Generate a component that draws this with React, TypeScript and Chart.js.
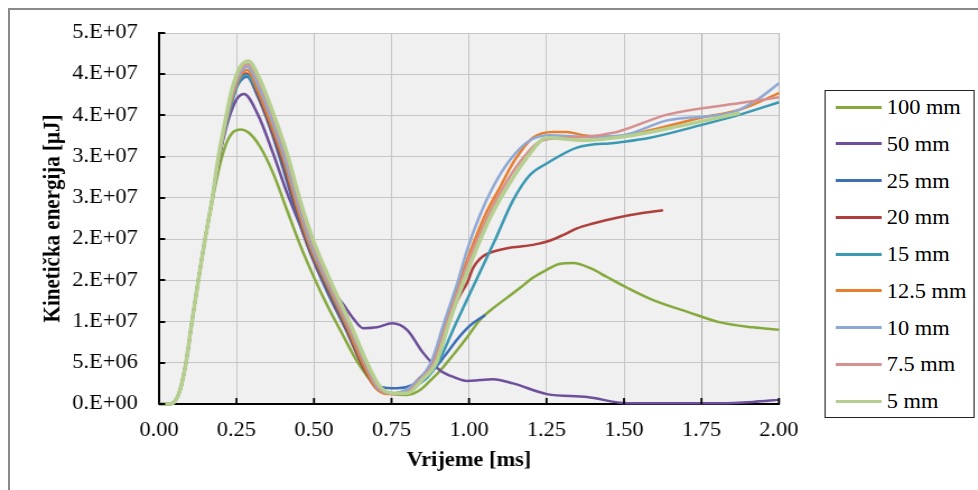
import React, { useEffect, useRef } from 'react';
import { Chart, registerables } from 'chart.js';

Chart.register(...registerables);

// ---------- data ----------
const seriesNames = ['100 mm', '50 mm', '25 mm', '20 mm', '15 mm', '12.5 mm', '10 mm', '7.5 mm', '5 mm'];
const seriesColors = ['#86aa3e', '#6e4f9b', '#3d6fb4', '#ae3f3c', '#3b99b3', '#e77f2e', '#8fa9d6', '#d69090', '#b5cf8f'];
const xTickLabels = ['0.00', '0.25', '0.50', '0.75', '1.00', '1.25', '1.50', '1.75', '2.00'];
const yTickLabels = ['0.E+00', '5.E+06', '1.E+07', '2.E+07', '2.E+07', '3.E+07', '3.E+07', '4.E+07', '4.E+07', '5.E+07'];

// shared initial rise (time in ms, kinetic energy in μJ)
const commonRise: [number, number][] = [
  [0, 0], [0.035, 0], [0.052, 0.36e6], [0.068, 1.7e6], [0.087, 5.0e6], [0.106, 9.9e6], [0.126, 14.8e6], [0.148, 19.9e6],
];

const s100mm: [number, number][] = [
  [0.171, 24.4e6], [0.19, 28.0e6], [0.213, 31.2e6], [0.237, 32.9e6], [0.265, 33.3e6],
  [0.29, 32.9e6], [0.326, 31.2e6], [0.368, 28.0e6], [0.413, 23.5e6], [0.455, 19.3e6], [0.497, 15.6e6],
  [0.542, 12.0e6], [0.584, 9.0e6], [0.642, 5.0e6], [0.697, 2.3e6], [0.752, 1.2e6], [0.8, 1.1e6],
  [0.842, 1.7e6], [0.874, 2.8e6], [0.906, 4.0e6], [0.948, 5.9e6], [0.994, 8.1e6], [1.035, 10.2e6],
  [1.077, 11.6e6], [1.123, 12.9e6], [1.165, 14.1e6], [1.206, 15.3e6], [1.252, 16.3e6], [1.294, 17.0e6],
  [1.335, 17.1e6], [1.39, 16.5e6], [1.445, 15.4e6], [1.51, 14.1e6], [1.594, 12.6e6], [1.703, 11.2e6],
  [1.81, 9.9e6], [1.916, 9.3e6], [2.0, 9.0e6],
];

const s50mm: [number, number][] = [
  [0.171, 24.7e6], [0.19, 29.0e6], [0.213, 33.0e6], [0.235, 35.7e6], [0.255, 37.2e6], [0.274, 37.6e6],
  [0.319, 35.1e6], [0.368, 30.4e6], [0.413, 25.6e6], [0.455, 21.7e6], [0.497, 17.7e6], [0.542, 14.6e6],
  [0.594, 12.1e6], [0.626, 10.4e6], [0.658, 9.2e6], [0.703, 9.3e6], [0.752, 9.8e6], [0.8, 9.0e6],
  [0.852, 6.2e6], [0.906, 4.1e6], [0.955, 3.2e6], [0.994, 2.8e6], [1.035, 2.9e6], [1.077, 3.0e6],
  [1.142, 2.5e6], [1.252, 1.2e6], [1.381, 0.85e6], [1.51, 0.1e6], [1.81, 0.1e6], [1.916, 0.25e6], [2.0, 0.5e6],
];

const s25mm: [number, number][] = [
  [0.171, 24.7e6], [0.19, 29.4e6], [0.213, 33.8e6], [0.235, 37.1e6], [0.261, 39.1e6], [0.284, 39.7e6],
  [0.316, 37.5e6], [0.358, 33.5e6], [0.4, 28.6e6], [0.442, 23.3e6], [0.484, 18.7e6], [0.539, 13.9e6],
  [0.603, 9.0e6], [0.658, 4.6e6], [0.713, 2.1e6], [0.768, 1.9e6],
  [0.816, 2.3e6], [0.858, 3.4e6], [0.884, 4.1e6], [0.923, 5.9e6], [0.961, 7.8e6], [1.003, 9.5e6], [1.052, 10.8e6],
];

const s20mm: [number, number][] = [
  [0.171, 24.7e6], [0.19, 29.2e6], [0.213, 33.6e6], [0.235, 36.8e6], [0.258, 39.3e6], [0.281, 40.1e6],
  [0.313, 38.1e6], [0.355, 34.1e6], [0.4, 29.2e6], [0.442, 23.8e6], [0.484, 18.9e6], [0.539, 14.3e6],
  [0.603, 9.2e6], [0.658, 4.5e6], [0.703, 1.8e6], [0.752, 1.3e6],
  [0.8, 1.7e6], [0.842, 3.2e6], [0.884, 5.0e6], [0.929, 9.8e6], [0.971, 13.2e6], [0.994, 14.7e6],
  [1.013, 16.5e6], [1.035, 17.6e6], [1.058, 18.2e6], [1.123, 18.9e6], [1.206, 19.3e6], [1.26, 19.8e6],
  [1.31, 20.6e6], [1.348, 21.3e6], [1.4, 21.9e6], [1.477, 22.6e6], [1.55, 23.1e6], [1.626, 23.5e6],
];

const s15mm: [number, number][] = [
  [0.171, 24.7e6], [0.19, 29.1e6], [0.213, 33.4e6], [0.235, 36.5e6], [0.258, 39.1e6], [0.281, 39.9e6],
  [0.316, 38.1e6], [0.358, 34.2e6], [0.403, 29.4e6], [0.445, 23.9e6], [0.487, 19.0e6], [0.542, 14.4e6],
  [0.606, 9.3e6], [0.661, 4.6e6], [0.706, 1.8e6], [0.761, 1.3e6],
  [0.81, 1.9e6], [0.865, 3.2e6], [0.9, 5.0e6], [0.958, 9.8e6], [1.023, 15.0e6], [1.084, 19.9e6],
  [1.142, 24.7e6], [1.197, 27.8e6], [1.252, 29.2e6], [1.348, 31.1e6], [1.477, 31.7e6], [1.584, 32.3e6],
  [1.745, 33.8e6], [1.874, 35.1e6], [2.0, 36.6e6],
];

const s12_5mm: [number, number][] = [
  [0.171, 24.7e6], [0.19, 29.2e6], [0.213, 33.6e6], [0.235, 37.0e6], [0.261, 39.7e6], [0.284, 40.5e6],
  [0.316, 38.3e6], [0.358, 34.3e6], [0.403, 29.6e6], [0.445, 24.0e6], [0.487, 19.2e6], [0.542, 14.6e6],
  [0.606, 9.5e6], [0.661, 4.7e6], [0.703, 1.8e6], [0.748, 1.2e6],
  [0.794, 1.5e6], [0.842, 2.9e6], [0.884, 5.0e6], [0.926, 9.8e6], [0.971, 15.0e6], [1.003, 18.4e6],
  [1.052, 22.9e6], [1.1, 26.3e6], [1.148, 29.6e6], [1.206, 32.3e6], [1.271, 33.0e6], [1.316, 33.0e6],
  [1.368, 32.6e6], [1.477, 32.4e6], [1.584, 33.2e6], [1.745, 34.7e6], [1.874, 35.7e6], [2.0, 37.7e6],
];

const s10mm: [number, number][] = [
  [0.171, 24.7e6], [0.19, 29.4e6], [0.213, 33.8e6], [0.235, 37.4e6], [0.261, 40.0e6], [0.284, 40.9e6],
  [0.319, 38.7e6], [0.361, 34.7e6], [0.406, 29.8e6], [0.448, 24.3e6], [0.49, 19.4e6], [0.545, 14.7e6],
  [0.61, 9.6e6], [0.665, 4.9e6], [0.706, 1.9e6], [0.752, 1.3e6],
  [0.787, 1.5e6], [0.835, 2.9e6], [0.877, 5.0e6], [0.919, 9.8e6], [0.965, 15.0e6], [0.994, 18.7e6],
  [1.035, 22.9e6], [1.077, 26.3e6], [1.132, 29.6e6], [1.197, 32.0e6], [1.261, 32.6e6], [1.368, 32.4e6],
  [1.497, 32.6e6], [1.639, 34.4e6], [1.852, 35.4e6], [1.929, 36.9e6], [2.0, 38.9e6],
];

const s7_5mm: [number, number][] = [
  [0.171, 24.7e6], [0.19, 29.5e6], [0.213, 34.0e6], [0.235, 37.7e6], [0.261, 40.4e6], [0.287, 41.2e6],
  [0.323, 39.1e6], [0.365, 35.1e6], [0.41, 30.2e6], [0.452, 24.5e6], [0.494, 19.6e6], [0.548, 14.8e6],
  [0.613, 9.6e6], [0.668, 4.9e6], [0.71, 1.9e6], [0.755, 1.2e6],
  [0.794, 1.3e6], [0.842, 2.9e6], [0.887, 5.0e6], [0.929, 9.8e6], [0.977, 15.0e6], [1.003, 17.8e6],
  [1.052, 22.1e6], [1.1, 25.6e6], [1.165, 29.4e6], [1.239, 32.0e6], [1.368, 32.4e6], [1.477, 33.0e6],
  [1.639, 35.1e6], [1.874, 36.5e6], [2.0, 37.2e6],
];

const s5mm: [number, number][] = [
  [0.171, 24.7e6], [0.19, 29.6e6], [0.213, 34.2e6], [0.235, 38.1e6], [0.261, 40.8e6], [0.287, 41.6e6],
  [0.326, 39.3e6], [0.368, 35.3e6], [0.413, 30.4e6], [0.455, 24.7e6], [0.497, 19.9e6], [0.552, 15.0e6],
  [0.616, 9.8e6], [0.671, 5.0e6], [0.713, 2.1e6], [0.755, 1.3e6],
  [0.8, 1.3e6], [0.848, 2.9e6], [0.894, 5.0e6], [0.935, 9.8e6], [0.984, 15.0e6], [1.013, 17.8e6],
  [1.068, 22.6e6], [1.123, 26.3e6], [1.181, 29.6e6], [1.252, 32.3e6], [1.368, 32.0e6], [1.529, 32.6e6],
  [1.69, 33.8e6], [1.874, 35.3e6],
];

const seriesData = [s100mm, s50mm, s25mm, s20mm, s15mm, s12_5mm, s10mm, s7_5mm, s5mm];

// ---------- layout (canvas drawn narrower, then stretched horizontally like the source image) ----------
const W = 978;
const H = 490;
const STRETCH = 1.12;
const CW = Math.round(W / STRETCH);
const SX = W / CW;
const PLOT_LEFT = 159 / SX;
const PLOT_TOP = 33;
const PLOT_RIGHT = 779 / SX;
const PLOT_BOTTOM = 404;
const FONT = "'Liberation Serif', 'Times New Roman', serif";

const plotDecor = {
  id: 'plotDecor',
  beforeDraw(chart: any) {
    const { ctx, chartArea: a } = chart;
    ctx.save();
    ctx.fillStyle = '#f0f0f0';
    ctx.fillRect(a.left, a.top, a.right - a.left, a.bottom - a.top);
    ctx.restore();
  },
  afterDraw(chart: any) {
    const { ctx, scales } = chart;
    const x = scales.x;
    const y = scales.y;
    ctx.save();
    ctx.strokeStyle = '#000';
    ctx.lineWidth = 1.8;
    x.ticks.forEach((t: any) => {
      const px = x.getPixelForValue(t.value);
      ctx.beginPath();
      ctx.moveTo(px, y.bottom);
      ctx.lineTo(px, y.bottom - 6);
      ctx.stroke();
    });
    ctx.lineWidth = 2;
    y.ticks.forEach((t: any) => {
      const py = Math.round(y.getPixelForValue(t.value));
      ctx.beginPath();
      ctx.moveTo(x.left, py);
      ctx.lineTo(x.left + 5.5, py);
      ctx.stroke();
    });
    ctx.restore();
  },
};

export default function App() {
  const canvasRef = useRef<HTMLCanvasElement | null>(null);

  useEffect(() => {
    const canvas = canvasRef.current;
    if (!canvas) return;
    const chart = new Chart(canvas, {
      type: 'line',
      data: {
        datasets: seriesData.map((pts, i) => ({
          label: seriesNames[i],
          data: [...commonRise, ...pts].map(([x, y]) => ({ x, y })),
          borderColor: seriesColors[i],
          backgroundColor: seriesColors[i],
          borderWidth: i === 8 ? 3.5 : 2.5,
          pointRadius: 0,
          fill: false,
          cubicInterpolationMode: 'monotone',
          order: 8 - i,
          clip: 6,
        })),
      },
      options: {
        responsive: false,
        animation: false,
        devicePixelRatio: 1,
        layout: { padding: { left: 0, top: PLOT_TOP, right: CW - PLOT_RIGHT, bottom: 0 } },
        plugins: { legend: { display: false }, tooltip: { enabled: false } },
        scales: {
          x: {
            type: 'linear',
            min: 0,
            max: 2,
            afterFit: (s: any) => { s.height = H - PLOT_BOTTOM; },
            afterBuildTicks: (s: any) => { s.ticks = xTickLabels.map((_, i) => ({ value: i * 0.25 })); },
            ticks: {
              autoSkip: false,
              maxRotation: 0,
              padding: 15,
              color: '#000',
              font: { family: FONT, size: 20 },
              callback: (_v: any, i: number) => xTickLabels[i],
            },
            grid: {
              color: (c: any) => (c.index === 7 ? '#a6a6a6' : c.index === 8 ? '#b8b8b8' : '#c6c6c6'),
              lineWidth: 1,
              drawTicks: false,
            },
            border: { display: true, color: '#000', width: 2 },
            title: {
              display: true,
              text: 'Vrijeme [ms]',
              color: '#000',
              font: { family: FONT, size: 20, weight: 'bold' },
              padding: { top: 0, bottom: 17 },
            },
          },
          y: {
            type: 'linear',
            min: 0,
            max: 45e6,
            afterFit: (s: any) => { s.width = PLOT_LEFT; },
            afterBuildTicks: (s: any) => { s.ticks = yTickLabels.map((_, i) => ({ value: i * 5e6 })); },
            ticks: {
              autoSkip: false,
              padding: 19,
              color: '#000',
              font: { family: FONT, size: 20 },
              callback: (_v: any, i: number) => yTickLabels[i],
            },
            grid: { color: '#c6c6c6', lineWidth: 1, drawTicks: false },
            border: { display: true, color: '#000', width: 2 },
            title: {
              display: true,
              text: 'Kinetička energija [μJ]',
              color: '#000',
              font: { family: FONT, size: 21, weight: 'bold' },
              padding: { top: 35, bottom: 0 },
            },
          },
        },
      },
      plugins: [plotDecor],
    } as any);
    return () => chart.destroy();
  }, []);

  const legendLeft = 824 / SX;
  const legendWidth = (976 - 824) / SX;

  return (
    <div style={{ position: 'fixed', left: 0, top: 0, width: W, height: H, overflow: 'hidden', background: '#fff' }}>
      <div
        style={{
          position: 'absolute', left: 8, top: 8, width: 1200, height: 800,
          borderLeft: '2px solid #8a8a8a', borderTop: '2px solid #8a8a8a',
        }}
      />
      <div
        style={{
          position: 'absolute', left: 0, top: 0, width: CW, height: H,
          transform: `scaleX(${SX})`, transformOrigin: '0 0',
        }}
      >
        <canvas ref={canvasRef} width={CW} height={H} style={{ position: 'absolute', left: 0, top: 0 }} />
        <div
          style={{
            position: 'absolute', left: legendLeft, top: 90, width: legendWidth - 3, height: 326,
            border: '1.5px solid #222', background: '#fff',
          }}
        >
          {seriesNames.map((name, i) => (
            <div key={name} style={{ position: 'absolute', left: 0, top: 3 + i * 36.75, height: 26, width: legendWidth - 3 }}>
              <div
                style={{
                  position: 'absolute', left: 9.5, top: 11.5, width: 41, height: 3,
                  background: seriesColors[i],
                }}
              />
              <span
                style={{
                  position: 'absolute', left: 55, top: 0, lineHeight: '26px', whiteSpace: 'nowrap',
                  fontFamily: FONT, fontSize: 20, color: '#000',
                }}
              >
                {name}
              </span>
            </div>
          ))}
        </div>
      </div>
    </div>
  );
}
